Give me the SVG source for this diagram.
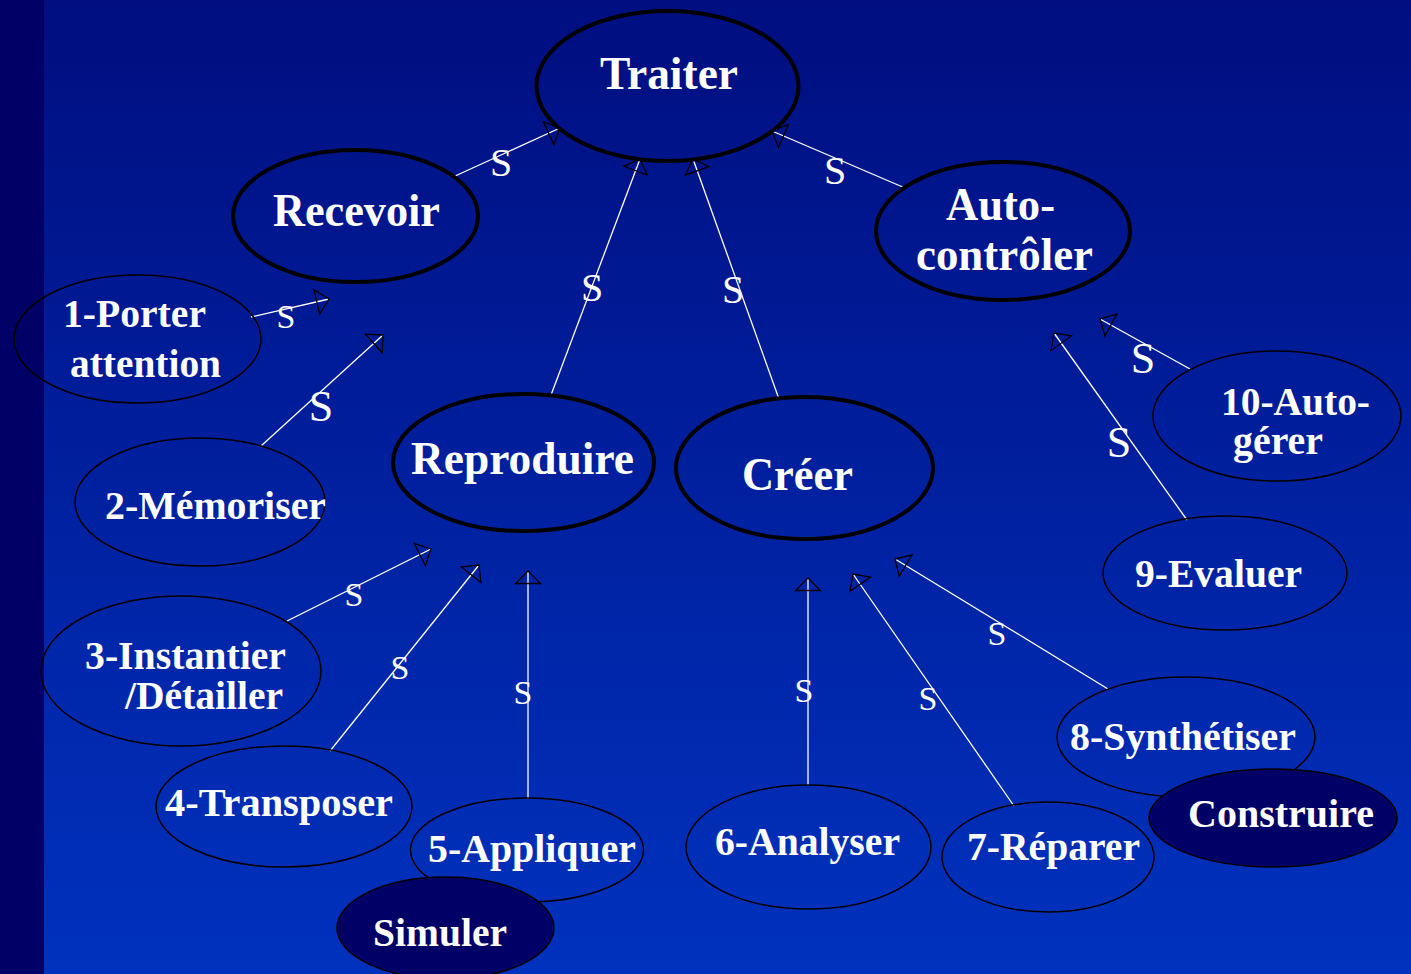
<svg xmlns="http://www.w3.org/2000/svg" width="1411" height="974" viewBox="0 0 1411 974">
<defs>
<linearGradient id="bg" x1="0" y1="0" x2="0" y2="1">
<stop offset="0" stop-color="#000E80"/>
<stop offset="1" stop-color="#0032BE"/>
</linearGradient>
<marker id="ah" markerUnits="userSpaceOnUse" viewBox="-15 -15 30 30" markerWidth="30" markerHeight="30" refX="0" refY="0" orient="auto" overflow="visible">
<path d="M0,0 L-12.5,-12.5 L-12.5,12.5 Z" fill="none" stroke="#000" stroke-width="1.3" stroke-linejoin="miter"/>
</marker>
</defs>
<style>
.thick{fill:none;stroke:#000;stroke-width:4}
.thin{fill:none;stroke:#000;stroke-width:1.5}
.dark{fill:#000066;stroke:#000;stroke-width:1.5}
.big{font-family:"Liberation Serif",serif;font-weight:bold;font-size:46px;fill:#fff}
.lbl{font-family:"Liberation Serif",serif;font-weight:bold;font-size:40px;fill:#fff}
.c{stroke:#fff;stroke-width:1.3;fill:none;marker-end:url(#ah)}
.s{font-family:"Liberation Serif",serif;fill:#fff;text-anchor:middle}
</style>
<rect x="0" y="0" width="1411" height="974" fill="url(#bg)"/>
<rect x="0" y="0" width="44" height="974" fill="#000066"/>

<g id="connectors">
<line class="c" x1="453" y1="177" x2="560" y2="128"/>
<line class="c" x1="551" y1="395" x2="640" y2="159"/>
<line class="c" x1="779" y1="399" x2="693" y2="159"/>
<line class="c" x1="905" y1="188" x2="772" y2="131"/>
<line class="c" x1="251" y1="317" x2="329" y2="299"/>
<line class="c" x1="261" y1="446" x2="383" y2="335"/>
<line class="c" x1="287" y1="621" x2="431" y2="549"/>
<line class="c" x1="330" y1="751" x2="479" y2="565"/>
<line class="c" x1="528" y1="799" x2="528" y2="571"/>
<line class="c" x1="808" y1="785" x2="808" y2="578"/>
<line class="c" x1="1014" y1="806" x2="853" y2="574"/>
<line class="c" x1="1108" y1="689" x2="895" y2="559"/>
<line class="c" x1="1187" y1="520" x2="1054" y2="333"/>
<line class="c" x1="1190" y1="369" x2="1100" y2="319"/>
<text class="s" x="501" y="176" font-size="40">S</text>
<text class="s" x="592" y="301" font-size="40">S</text>
<text class="s" x="733" y="303" font-size="40">S</text>
<text class="s" x="835" y="184" font-size="40">S</text>
<text class="s" x="286" y="328" font-size="34">S</text>
<text class="s" x="321" y="421" font-size="44">S</text>
<text class="s" x="354" y="606" font-size="34">S</text>
<text class="s" x="400" y="679" font-size="34">S</text>
<text class="s" x="523" y="704" font-size="34">S</text>
<text class="s" x="804" y="702" font-size="34">S</text>
<text class="s" x="928" y="710" font-size="34">S</text>
<text class="s" x="997" y="645" font-size="34">S</text>
<text class="s" x="1119" y="457" font-size="44">S</text>
<text class="s" x="1143" y="373" font-size="44">S</text>
</g>

<g id="traiter">
<ellipse class="thick" cx="667.5" cy="86" rx="131" ry="75"/>
<text class="big" x="600" y="89" textLength="138" lengthAdjust="spacingAndGlyphs">Traiter</text>
</g>
<g id="recevoir">
<ellipse class="thick" cx="355.5" cy="216" rx="122.5" ry="66"/>
<text class="big" x="273" y="226" textLength="167" lengthAdjust="spacingAndGlyphs">Recevoir</text>
</g>
<g id="autocontroler">
<ellipse class="thick" cx="1003" cy="231" rx="127" ry="69"/>
<text class="big" x="946" y="220" textLength="109" lengthAdjust="spacingAndGlyphs">Auto-</text>
<text class="big" x="916" y="270" textLength="177" lengthAdjust="spacingAndGlyphs">contrôler</text>
</g>
<g id="reproduire">
<ellipse class="thick" cx="523.5" cy="462.5" rx="130.5" ry="68.5"/>
<text class="big" x="411" y="474" textLength="223" lengthAdjust="spacingAndGlyphs">Reproduire</text>
</g>
<g id="creer">
<ellipse class="thick" cx="804.5" cy="468" rx="128.5" ry="71"/>
<text class="big" x="742" y="490" textLength="111" lengthAdjust="spacingAndGlyphs">Créer</text>
</g>

<g id="n1">
<ellipse class="thin" cx="137.5" cy="339" rx="123.5" ry="64"/>
<text class="lbl" x="63" y="327" textLength="143" lengthAdjust="spacingAndGlyphs">1-Porter</text>
<text class="lbl" x="70" y="377" textLength="151" lengthAdjust="spacingAndGlyphs">attention</text>
</g>
<g id="n2">
<ellipse class="thin" cx="200" cy="502" rx="125" ry="64"/>
<text class="lbl" x="105" y="519" textLength="221" lengthAdjust="spacingAndGlyphs">2-Mémoriser</text>
</g>
<g id="n3">
<ellipse class="thin" cx="181" cy="671" rx="140" ry="75"/>
<text class="lbl" x="85" y="669" textLength="201" lengthAdjust="spacingAndGlyphs">3-Instantier</text>
<text class="lbl" x="125" y="709" textLength="158" lengthAdjust="spacingAndGlyphs">/Détailler</text>
</g>
<g id="n4">
<ellipse class="thin" cx="284" cy="806.5" rx="128" ry="60.5"/>
<text class="lbl" x="165" y="816" textLength="228" lengthAdjust="spacingAndGlyphs">4-Transposer</text>
</g>
<g id="n5">
<ellipse class="thin" cx="527" cy="850" rx="116.5" ry="52"/>
<text class="lbl" x="428" y="862" textLength="208" lengthAdjust="spacingAndGlyphs">5-Appliquer</text>
</g>
<g id="simuler">
<ellipse class="dark" cx="445.5" cy="928" rx="108.5" ry="51"/>
<text class="lbl" x="373" y="946" textLength="134" lengthAdjust="spacingAndGlyphs">Simuler</text>
</g>
<g id="n6">
<ellipse class="thin" cx="808.5" cy="847" rx="122.5" ry="62"/>
<text class="lbl" x="715" y="855" textLength="185" lengthAdjust="spacingAndGlyphs">6-Analyser</text>
</g>
<g id="n7">
<ellipse class="thin" cx="1048" cy="857" rx="106" ry="55"/>
<text class="lbl" x="967" y="860" textLength="173" lengthAdjust="spacingAndGlyphs">7-Réparer</text>
</g>
<g id="n8">
<ellipse class="thin" cx="1186" cy="737" rx="129" ry="60"/>
<text class="lbl" x="1070" y="750" textLength="226" lengthAdjust="spacingAndGlyphs">8-Synthétiser</text>
</g>
<g id="construire">
<ellipse class="dark" cx="1273" cy="818" rx="124" ry="49"/>
<text class="lbl" x="1188" y="827" textLength="186" lengthAdjust="spacingAndGlyphs">Construire</text>
</g>
<g id="n9">
<ellipse class="thin" cx="1225" cy="573" rx="122" ry="57"/>
<text class="lbl" x="1135" y="587" textLength="167" lengthAdjust="spacingAndGlyphs">9-Evaluer</text>
</g>
<g id="n10">
<ellipse class="thin" cx="1277" cy="416" rx="124" ry="65"/>
<text class="lbl" x="1221" y="415" textLength="149" lengthAdjust="spacingAndGlyphs">10-Auto-</text>
<text class="lbl" x="1233" y="454" textLength="90" lengthAdjust="spacingAndGlyphs">gérer</text>
</g>
</svg>
